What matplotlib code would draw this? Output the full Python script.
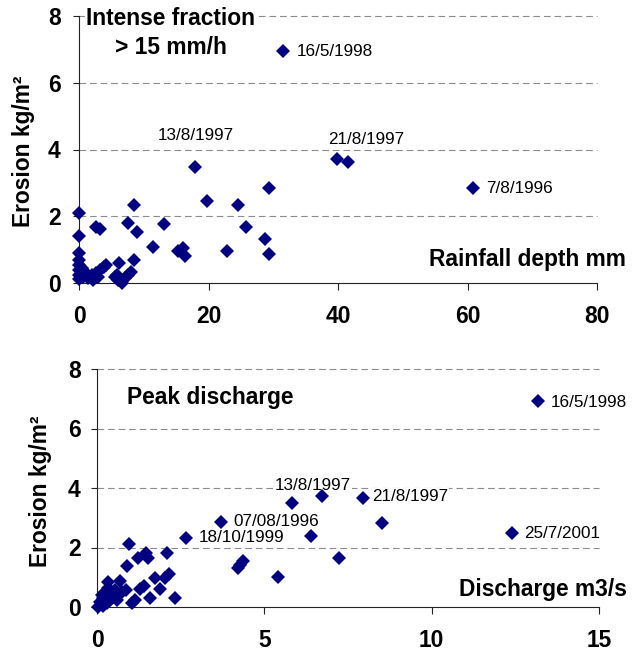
import matplotlib
matplotlib.use("Agg")
import matplotlib.pyplot as plt

plt.rcParams['font.family'] = ['Liberation Sans', 'DejaVu Sans']

# ---- Top chart: rainfall depth (mm) vs erosion (kg/m2)
rain_x = [31.5, 17.95, 39.8, 41.6, 60.8, 29.4, 19.8, 24.5, 8.5, 0.0,
          2.6, 3.2, 7.5, 9.0, 13.1, 25.8, 0.0, 11.5, 28.8, 15.3,
          16.0, 16.4, 22.9, 29.4, 6.2, 8.5,
          0.0, 0.0, 0.0, 0.0, 0.0, 0.0,
          0.67, 1.4, 1.96, 2.2, 2.7, 3.2, 3.8, 4.2, 3.0, 0.93, 0.4,
          5.6, 6.1, 6.6, 7.1, 7.6, 8.1, 5.8]
rain_y = [6.95, 3.49, 3.73, 3.62, 2.86, 2.86, 2.46, 2.35, 2.33, 2.09,
          1.69, 1.61, 1.81, 1.52, 1.77, 1.67, 1.41, 1.09, 1.31, 0.96,
          1.04, 0.81, 0.95, 0.86, 0.61, 0.69,
          0.89, 0.69, 0.54, 0.39, 0.24, 0.11,
          0.19, 0.14, 0.24, 0.09, 0.29, 0.39, 0.49, 0.54, 0.19, 0.34, 0.44,
          0.19, 0.09, 0.0, 0.14, 0.24, 0.34, 0.24]

# ---- Bottom chart: peak discharge (m3/s) vs erosion (kg/m2)
dis_x = [13.17, 5.82, 6.73, 7.94, 8.51, 3.72, 6.40, 12.40, 2.66, 7.23,
         5.40, 4.20, 4.36, 4.28, 0.96, 0.89, 1.23, 1.46, 1.53, 2.10,
         2.16, 2.03, 1.88, 1.73, 2.33, 1.58, 1.41, 1.28, 1.04, 1.14,
         0.86, 0.69, 0.34,
         0.04, 0.09, 0.19, 0.24, 0.34, 0.44, 0.54, 0.64, 0.74, 0.39,
         0.29, 0.19, 0.49, 0.14, 0.59]
dis_y = [6.92, 3.49, 3.73, 3.67, 2.84, 2.87, 2.37, 2.48, 2.31, 1.64,
         1.00, 1.31, 1.54, 1.42, 2.11, 1.39, 1.64, 1.81, 1.66, 1.81,
         1.11, 0.99, 0.60, 0.97, 0.31, 0.31, 0.72, 0.60, 0.15, 0.24,
         0.57, 0.88, 0.85,
         0.01, 0.18, 0.29, 0.52, 0.63, 0.46, 0.57, 0.40, 0.52, 0.24,
         0.12, 0.03, 0.35, 0.40, 0.24]

yticks = [0, 2, 4, 6, 8]
top_xticks = [0, 20, 40, 60, 80]
bot_xticks = [0, 5, 10, 15]

top_labels = [("16/5/1998", 33.7, 6.95, 'left'),
              ("13/8/1997", 18.0, 4.43, 'center'),
              ("21/8/1997", 44.4, 4.30, 'center'),
              ("7/8/1996", 62.8, 2.84, 'left')]
bot_labels = [("16/5/1998", 13.55, 6.89, 'left'),
              ("13/8/1997", 6.45, 4.07, 'center'),
              ("21/8/1997", 8.23, 3.73, 'left'),
              ("07/08/1996", 4.07, 2.87, 'left'),
              ("18/10/1999", 3.05, 2.32, 'left'),
              ("25/7/2001", 12.77, 2.48, 'left')]

NAVY = '#000080'
BOLD = dict(fontsize=16.4, fontweight='bold', color='black')

fig = plt.figure(figsize=(6.37, 6.52), dpi=100)
ax1 = fig.add_axes([79/637, 1-283/652, 518/637, 267/652])
ax2 = fig.add_axes([97/637, 1-607/652, 502/637, 238/652])


def style(ax, xt, xmax, ypad):
    ax.set_xlim(0, xmax)
    ax.set_ylim(0, 8)
    ax.set_xticks(xt)
    ax.set_yticks(yticks)
    ax.set_xticklabels([str(v) for v in xt])
    ax.set_yticklabels([str(v) for v in yticks])
    for s in ['top', 'right']:
        ax.spines[s].set_visible(False)
    for s in ['left', 'bottom']:
        ax.spines[s].set_linewidth(0.8)
        ax.spines[s].set_color('#222222')
    ax.tick_params(axis='x', direction='out', length=5, width=0.8,
                   pad=11, labelsize=16.4, color='#222222')
    ax.tick_params(axis='y', direction='out', length=4.5, width=0.8,
                   pad=ypad, labelsize=16.4, color='#222222')
    for lab in ax.get_xticklabels() + ax.get_yticklabels():
        lab.set_fontweight('bold')
    for v in yticks[1:]:
        ax.axhline(v, color='#8c8c8c', lw=0.8, ls=(0, (6, 3.5)), zorder=0,
                   clip_on=False)


style(ax1, top_xticks, 80, 8.6)
style(ax2, bot_xticks, 15, 7.2)

ax1.plot(rain_x, rain_y, ls='none', marker='D', ms=6.7, mew=0,
         color=NAVY, clip_on=False, zorder=3)
ax2.plot(dis_x, dis_y, ls='none', marker='D', ms=6.7, mew=0,
         color=NAVY, clip_on=False, zorder=3)

for txt, x, y, ha in top_labels:
    ax1.text(x, y, txt, ha=ha, va='center', fontsize=12.3, color='black',
             zorder=2.5, bbox=dict(fc='white', ec='none', pad=0.5))
for txt, x, y, ha in bot_labels:
    ax2.text(x, y, txt, ha=ha, va='center', fontsize=12.3, color='black',
             zorder=2.5, bbox=dict(fc='white', ec='none', pad=0.5))

ax1.text(14.2, 7.93, "Intense fraction", ha='center', va='center',
         zorder=4, clip_on=False, bbox=dict(fc='white', ec='none', pad=1),
         **BOLD)
ax1.text(14.2, 7.07, "> 15 mm/h", ha='center', va='center', zorder=4, **BOLD)
ax1.text(84.5, 0.70, "Rainfall depth mm", ha='right', va='center',
         clip_on=False, zorder=4, **BOLD)

ax2.text(0.90, 7.04, "Peak discharge", ha='left', va='center', zorder=4,
         **BOLD)
ax2.text(15.84, 0.59, "Discharge m3/s", ha='right', va='center',
         clip_on=False, zorder=4, **BOLD)

fig.text(24/637, 1-151/652, "Erosion kg/m²", rotation=90, ha='center',
         va='center', **BOLD)
fig.text(41/637, 1-491/652, "Erosion kg/m²", rotation=90, ha='center',
         va='center', **BOLD)

fig.savefig("out.png", dpi=100)
